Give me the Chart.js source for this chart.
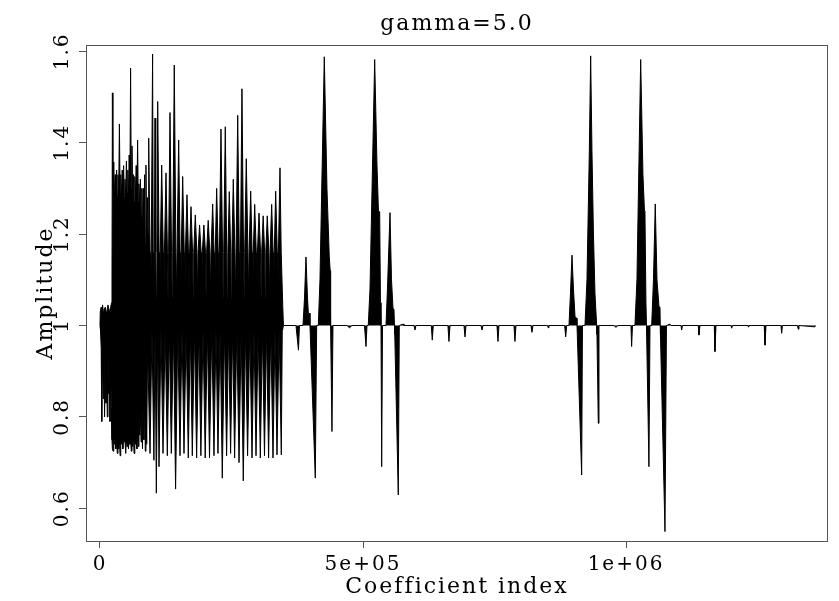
<!DOCTYPE html>
<html>
<head>
<meta charset="utf-8">
<script src="https://cdn.jsdelivr.net/npm/chart.js@4.4.1/dist/chart.umd.min.js"></script>
<style>
  html, body { margin: 0; padding: 0; background: #fff; }
</style>
</head>
<body>
<canvas id="chart" width="839" height="601"></canvas>
<script>
// All pairs are [coefficient index in thousands, amplitude].
// The busy first part is kept as its upper and lower envelopes.
const upperEnvelope = [
  [0, 1.0], [0.5, 1.03], [2.3, 1.04], [3.4, 1.02], [4.9, 1.045], [6.3, 1.03], [7.6, 1.035],
  [10.1, 1.04], [12.7, 1.025], [15.2, 1.045], [17.9, 1.03], [20.3, 1.04], [22.0, 1.05],
  [22.8, 1.1], [23.6, 1.509], [24.5, 1.3], [26.2, 1.358], [27.6, 1.28], [28.9, 1.33],
  [30.2, 1.29], [31.6, 1.34], [32.9, 1.28], [34.2, 1.33], [35.6, 1.29], [36.9, 1.441],
  [38.2, 1.29], [39.5, 1.33], [40.9, 1.28], [42.2, 1.34], [43.5, 1.3], [44.9, 1.35],
  [46.2, 1.28], [47.5, 1.32], [48.9, 1.27], [50.2, 1.36], [51.5, 1.29], [52.9, 1.34],
  [54.2, 1.28], [55.5, 1.373], [56.8, 1.29], [58.2, 1.563], [59.5, 1.3], [60.8, 1.393],
  [62.2, 1.28], [63.5, 1.33], [64.8, 1.27], [66.2, 1.326], [67.5, 1.28], [68.8, 1.35],
  [70.2, 1.27], [71.5, 1.406], [72.8, 1.27], [74.1, 1.31], [75.5, 1.25], [76.8, 1.32],
  [78.1, 1.24], [79.5, 1.3], [80.8, 1.2], [82.1, 1.3], [83.5, 1.2], [84.8, 1.33],
  [86.1, 1.18], [87.4, 1.351], [88.8, 1.15], [90.1, 1.28], [91.3, 1.2],
  [92.6, 1.41], [95.2, 1.16], [96.3, 1.06], [97.4, 1.16],
  [100.0, 1.594], [101.2, 1.16], [102.3, 1.06], [103.4, 1.16],
  [104.6, 1.454], [106.0, 1.16], [107.2, 1.06], [108.3, 1.16],
  [109.7, 1.49], [112.4, 1.16], [113.5, 1.06], [114.6, 1.16],
  [117.3, 1.351], [120.3, 1.16], [121.4, 1.06], [122.5, 1.16],
  [125.5, 1.334], [128.2, 1.16], [129.3, 1.06], [130.4, 1.16],
  [133.1, 1.466], [136.0, 1.16], [137.2, 1.06], [138.3, 1.16],
  [141.2, 1.57], [144.3, 1.16], [145.4, 1.06], [146.5, 1.16],
  [149.6, 1.406], [152.3, 1.16], [153.4, 1.06], [154.5, 1.16],
  [157.2, 1.326], [160.2, 1.16], [161.3, 1.06], [162.4, 1.16],
  [165.4, 1.286], [168.1, 1.16], [169.2, 1.06], [170.3, 1.16],
  [173.0, 1.26], [176.0, 1.16], [177.1, 1.06], [178.2, 1.16],
  [181.2, 1.242], [184.2, 1.16], [185.3, 1.06], [186.4, 1.16],
  [189.3, 1.22], [192.3, 1.16], [193.4, 1.06], [194.5, 1.16],
  [197.5, 1.22], [200.5, 1.16], [201.6, 1.06], [202.7, 1.16],
  [205.7, 1.23], [208.9, 1.16], [210.0, 1.06], [211.1, 1.16],
  [214.2, 1.266], [216.9, 1.16], [218.0, 1.06], [219.1, 1.16],
  [221.8, 1.3], [224.8, 1.16], [225.9, 1.06], [227.0, 1.16],
  [230.0, 1.43], [233.0, 1.16], [234.1, 1.06], [235.2, 1.16],
  [238.2, 1.435], [240.9, 1.16], [242.0, 1.06], [243.1, 1.16],
  [245.8, 1.293], [248.5, 1.16], [249.6, 1.06], [250.7, 1.16],
  [253.4, 1.32], [256.5, 1.16], [257.6, 1.06], [258.7, 1.16],
  [261.8, 1.46], [264.8, 1.16], [265.9, 1.06], [267.0, 1.16],
  [269.9, 1.518], [272.9, 1.16], [274.0, 1.06], [275.1, 1.16],
  [278.1, 1.365], [281.2, 1.16], [282.3, 1.06], [283.4, 1.16],
  [286.5, 1.294], [289.2, 1.16], [290.3, 1.06], [291.4, 1.16],
  [294.1, 1.265], [297.1, 1.16], [298.2, 1.06], [299.3, 1.16],
  [302.3, 1.246], [305.2, 1.16], [306.3, 1.06], [307.4, 1.16],
  [310.2, 1.24], [313.0, 1.16], [314.1, 1.06], [315.2, 1.16],
  [318.0, 1.24], [321.1, 1.16], [322.2, 1.06], [323.3, 1.16],
  [326.4, 1.265], [329.1, 1.16], [330.2, 1.06], [331.3, 1.16],
  [334.0, 1.294], [337.0, 1.16], [338.1, 1.06], [339.2, 1.16],
  [342.2, 1.345], [344.5, 1.16], [347.5, 1.04], [348.8, 1.0]
]

const lowerEnvelope = [
  [0, 1.0], [0.95, 0.99], [2.3, 0.95], [3.4, 0.79], [4.9, 0.95], [6.3, 0.84], [7.6, 0.93],
  [8.7, 0.8], [10.1, 0.92], [11.4, 0.83], [12.7, 0.9], [13.9, 0.8], [15.2, 0.93],
  [16.5, 0.85], [17.9, 0.9], [19.0, 0.79], [20.3, 0.92], [21.5, 0.82], [22.8, 0.75],
  [23.6, 0.73], [24.9, 0.725], [26.2, 0.75], [27.6, 0.74], [28.9, 0.76], [30.2, 0.73],
  [31.6, 0.75], [32.9, 0.72], [34.2, 0.745], [35.6, 0.73], [36.9, 0.75], [38.2, 0.715],
  [39.5, 0.745], [40.9, 0.74], [42.2, 0.75], [43.5, 0.73], [44.9, 0.755], [46.2, 0.745],
  [47.5, 0.75], [48.9, 0.72], [50.2, 0.75], [51.5, 0.735], [52.9, 0.75], [54.2, 0.73],
  [55.5, 0.76], [56.8, 0.74], [58.2, 0.75], [59.5, 0.725], [60.8, 0.75], [62.2, 0.735],
  [63.5, 0.76], [64.8, 0.72], [66.2, 0.75], [67.5, 0.74], [68.8, 0.75], [70.2, 0.73],
  [71.5, 0.77], [72.8, 0.735], [74.1, 0.8], [75.5, 0.76], [76.8, 0.8], [78.1, 0.745],
  [79.5, 0.8], [80.8, 0.73], [82.1, 0.85], [83.5, 0.75], [84.8, 0.85], [86.1, 0.725],
  [87.4, 0.88], [88.8, 0.74], [90.5, 0.95],
  [95.1, 0.72], [98.8, 0.99], [102.5, 0.705], [104.8, 0.99], [107.1, 0.633], [109.7, 0.99],
  [112.2, 0.691], [116.0, 0.99], [119.8, 0.72], [123.9, 0.99], [128.0, 0.715], [131.8, 0.99],
  [135.6, 0.72], [139.7, 0.99], [143.7, 0.642], [147.9, 0.99], [152.1, 0.715], [155.9, 0.99],
  [159.7, 0.72], [163.8, 0.99], [167.9, 0.71], [171.7, 0.99], [175.5, 0.715], [179.6, 0.99],
  [183.7, 0.71], [187.8, 0.99], [191.8, 0.715], [195.9, 0.99], [200.0, 0.71], [204.1, 0.99],
  [208.2, 0.71], [212.5, 0.99], [216.7, 0.715], [220.5, 0.99], [224.3, 0.72], [228.4, 0.99],
  [232.5, 0.666], [236.6, 0.99], [240.7, 0.715], [244.5, 0.99], [248.3, 0.72], [252.1, 0.99],
  [255.9, 0.71], [260.1, 0.99], [264.3, 0.7], [268.4, 0.99], [272.4, 0.66], [276.5, 0.99],
  [280.6, 0.715], [284.8, 0.99], [289.0, 0.71], [292.8, 0.99], [296.6, 0.715], [300.7, 0.99],
  [304.8, 0.71], [308.8, 0.99], [312.7, 0.715], [316.6, 0.99], [320.5, 0.71], [324.7, 0.99],
  [328.9, 0.71], [332.7, 0.99], [336.5, 0.717], [340.6, 0.99], [344.7, 0.717], [346.5, 0.99],
  [348.8, 1.0]
]

const firstBursts = [
  [348.8, 1.0], [372.6, 1.0], [377.3, 0.946], [379.2, 1.0],
  [385.9, 1.0], [388.8, 1.06], [391.6, 1.15], [394.5, 1.06], [396.4, 1.02], [398.3, 1.027],
  [399.2, 1.0], [399.8, 0.98], [409.3, 0.666], [411.9, 1.0],
  [415.0, 1.0], [418.2, 1.1], [426.4, 1.588], [431.5, 1.3], [435.9, 1.15], [437.6, 1.12],
  [438.4, 1.0], [441.0, 0.768], [442.9, 1.0],
  [469.5, 1.0], [474.3, 0.995], [479.1, 1.0],
  [502.8, 1.0], [505.7, 0.954], [507.6, 1.0],
  [510.0, 1.0], [513.3, 1.08], [522.2, 1.582], [526.6, 1.35], [529.4, 1.25], [531.7, 1.249],
  [533.2, 1.05], [534.2, 1.0], [535.5, 0.691], [537.1, 1.0],
  [543.7, 1.0], [546.5, 1.08], [551.3, 1.247], [554.2, 1.1], [557.0, 1.038], [558.9, 1.035],
  [559.8, 1.0], [560.4, 0.98], [567.1, 0.629], [569.0, 1.0],
  [576.6, 1.003], [577.9, 1.0]
]

const quietDips = [
  [596.9, 1.0], [598.8, 0.99], [600.7, 1.0],
  [629.8, 1.0], [631.7, 0.968], [633.6, 1.0],
  [661.5, 1.0], [663.4, 0.965], [665.4, 1.0],
  [692.0, 1.0], [693.9, 0.975], [695.8, 1.0],
  [724.3, 1.0], [726.2, 0.99], [728.1, 1.0],
  [754.7, 1.0], [756.6, 0.965], [758.5, 1.0],
  [787.0, 1.0], [788.9, 0.965], [790.8, 1.0],
  [819.3, 1.0], [821.2, 0.985], [823.1, 1.0],
  [850.7, 1.0], [852.2, 0.995], [853.5, 1.0],
  [883.4, 1.0], [885.3, 0.975], [887.2, 1.0]
]

const secondBursts = [
  [891.6, 1.0], [894.4, 1.07], [897.3, 1.154], [900.1, 1.08], [903.0, 1.02], [905.8, 1.016],
  [906.8, 1.0], [907.4, 0.98], [915.7, 0.673], [917.2, 1.0],
  [922.0, 1.0], [925.8, 1.1], [930.2, 1.377], [932.8, 1.59], [935.3, 1.38], [938.1, 1.2],
  [941.0, 1.07], [944.2, 1.0], [944.8, 0.98], [947.3, 0.786], [948.6, 1.0],
  [977.1, 1.0], [980.9, 0.996], [984.7, 1.0],
  [1009.4, 1.0], [1010.7, 0.954], [1012.3, 1.0],
  [1017.0, 1.0], [1020.8, 1.1], [1027.9, 1.582], [1032.2, 1.33], [1035.1, 1.25], [1036.0, 1.249],
  [1037.9, 1.05], [1038.9, 1.0], [1043.6, 0.691], [1045.6, 1.0],
  [1048.8, 1.0], [1052.2, 1.1], [1055.6, 1.266], [1058.9, 1.1], [1062.7, 1.041], [1064.6, 1.04],
  [1065.1, 1.0], [1065.5, 0.98], [1074.1, 0.549], [1076.9, 1.0],
  [1083.6, 1.003], [1085.5, 1.0]
]

const tailDips = [
  [1104.5, 1.0], [1105.8, 0.99], [1107.3, 1.0],
  [1137.4, 1.0], [1138.7, 0.979], [1140.6, 1.0],
  [1167.8, 1.0], [1169.1, 0.943], [1171.0, 1.0],
  [1199.5, 1.0], [1200.9, 0.994], [1202.4, 1.0],
  [1231.8, 1.0], [1232.4, 0.997], [1233.7, 1.0],
  [1262.8, 1.0], [1264.2, 0.957], [1266.1, 1.0],
  [1294.6, 1.0], [1295.9, 0.983], [1297.4, 1.0],
  [1325.9, 1.0], [1327.5, 0.992], [1328.8, 1.0],
  [1359.2, 0.997], [1360.2, 1.0]
]

const xTickValues = [0, 500000, 1000000]
const xTickLabels = ['0', '5e+05', '1e+06']
const yTickValues = [0.6, 0.8, 1, 1.2, 1.4, 1.6]
const yTickLabels = ['0.6', '0.8', '1', '1.2', '1.4', '1.6']

const toPoints = pairs => pairs.map(([k, amp]) => ({ x: k * 1000, y: amp }))
const quietPart = [...firstBursts, ...quietDips, ...secondBursts, ...tailDips]

const serif = "'DejaVu Serif', serif"

// R-style text is widely spaced
const spacing = {
  id: 'spacing',
  beforeLayout(chart) { chart.ctx.letterSpacing = '2px' },
  beforeDraw(chart) { chart.ctx.letterSpacing = '2px' }
}

// box round the plot region
const frame = {
  id: 'frame',
  afterDatasetsDraw(chart) {
    const { ctx, chartArea: a } = chart
    ctx.save()
    ctx.strokeStyle = '#555'
    ctx.lineWidth = 1
    ctx.strokeRect(Math.round(a.left) + 0.5, Math.round(a.top) + 0.5,
      Math.round(a.right - a.left) - 1, Math.round(a.bottom - a.top))
    ctx.restore()
  }
}

// the two envelopes overlap a little at 1 so no seam shows between them
const signal = (data, base) => ({
  data: toPoints(data),
  borderColor: '#000',
  backgroundColor: '#000',
  borderWidth: 1,
  fill: { value: base },
  pointRadius: 0,
  tension: 0
})

new Chart(document.getElementById('chart'), {
  type: 'line',
  data: {
    datasets: [
      signal(upperEnvelope, 0.99),
      signal(lowerEnvelope, 1.01),
      signal(quietPart, 1)
    ]
  },
  options: {
    responsive: false,
    devicePixelRatio: 1,
    animation: false,
    layout: { padding: { left: 0, right: 11, top: 0, bottom: 0 } },
    plugins: {
      legend: { display: false },
      tooltip: { enabled: false },
      title: {
        display: true,
        text: 'gamma=5.0',
        color: '#000',
        fullSize: false,
        font: { family: serif, size: 22, weight: 'normal' },
        padding: { top: 11, bottom: 7.6 }
      }
    },
    scales: {
      x: {
        type: 'linear',
        min: -26600,
        max: 1384000,
        afterBuildTicks: s => { s.ticks = xTickValues.map(v => ({ value: v })) },
        afterFit: s => { s.height = 60 },
        grid: { drawOnChartArea: false, drawTicks: true, tickLength: 7, color: '#555' },
        border: { display: false },
        ticks: {
          callback: (v, i) => xTickLabels[i],
          color: '#000',
          font: { family: serif, size: 20 },
          padding: 5,
          maxRotation: 0,
          autoSkip: false
        },
        title: {
          display: true,
          text: 'Coefficient index',
          color: '#000',
          font: { family: serif, size: 22 },
          padding: { top: 0, bottom: 1 }
        }
      },
      y: {
        type: 'linear',
        min: 0.5284,
        max: 1.6138,
        afterBuildTicks: s => { s.ticks = yTickValues.map(v => ({ value: v })) },
        afterFit: s => { s.width = 86 },
        grid: { drawOnChartArea: false, drawTicks: true, tickLength: 7, color: '#555' },
        border: { display: false },
        ticks: {
          callback: (v, i) => yTickLabels[i],
          color: '#000',
          font: { family: serif, size: 20 },
          minRotation: 90,
          maxRotation: 90,
          crossAlign: 'center',
          padding: -3,
          autoSkip: false
        },
        title: {
          display: true,
          text: 'Amplitude',
          color: '#000',
          font: { family: serif, size: 22 },
          padding: { top: 33, bottom: 0 }
        }
      }
    }
  },
  plugins: [spacing, frame]
})
</script>
</body>
</html>
